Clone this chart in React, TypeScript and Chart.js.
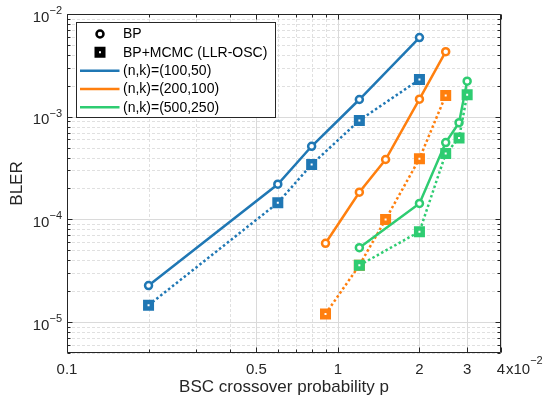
import React, { useEffect, useRef } from 'react';
import { Chart, registerables } from 'chart.js';

Chart.register(...registerables);

// ---- data ----
const xTicks = [0.1, 0.5, 1, 2, 3, 4];
const xTickLabels = ['0.1', '0.5', '1', '2', '3', '4'];
const xMinorTicks = [0.2, 0.3, 0.4, 0.6, 0.7, 0.8, 0.9];
const yDecades = [-5, -4, -3, -2];
const xExponent = '\u22122';
const yMin = 5e-6;
const yMax = 1e-2;
const xMin = 0.1;
const xMax = 4;

const p100 = [0.2, 0.6, 0.8, 1.2, 2];
const bp100 = [2.27e-5, 2.2e-4, 5.15e-4, 1.47e-3, 5.9e-3];
const mc100 = [1.46e-5, 1.45e-4, 3.42e-4, 9.2e-4, 2.3e-3];

const p200 = [0.9, 1.2, 1.5, 2, 2.5];
const bp200 = [5.85e-5, 1.84e-4, 3.83e-4, 1.48e-3, 4.3e-3];
const mc200 = [1.2e-5, 3.57e-5, 1.0e-4, 3.9e-4, 1.61e-3];

const p500 = [1.2, 2, 2.5, 2.8, 3];
const bp500 = [5.3e-5, 1.43e-4, 5.6e-4, 8.75e-4, 2.22e-3];
const mc500 = [3.57e-5, 7.6e-5, 4.37e-4, 6.2e-4, 1.64e-3];

const seriesNames = ['(n,k)=(100,50)', '(n,k)=(200,100)', '(n,k)=(500,250)'];
const markerNames = ['BP', 'BP+MCMC (LLR-OSC)'];
const colors = ['#1F77B4', '#FF7F0E', '#2ECC71'];
const xTitle = 'BSC crossover probability p';
const yTitle = 'BLER';

const FONT = '"Liberation Sans", Arial, Helvetica, sans-serif';
const AXIS = '#262626';

const groups = [
  { p: p100, bp: bp100, mc: mc100 },
  { p: p200, bp: bp200, mc: mc200 },
  { p: p500, bp: bp500, mc: mc500 },
];

function drawSquare(ctx: CanvasRenderingContext2D, x: number, y: number, color: string) {
  ctx.save();
  ctx.fillStyle = '#fff';
  ctx.strokeStyle = color;
  ctx.lineWidth = 4.5;
  ctx.beginPath();
  ctx.rect(x - 3.25, y - 3.25, 6.5, 6.5);
  ctx.fill();
  ctx.stroke();
  ctx.restore();
}

function drawCircle(ctx: CanvasRenderingContext2D, x: number, y: number, color: string) {
  ctx.save();
  ctx.fillStyle = '#fff';
  ctx.strokeStyle = color;
  ctx.lineWidth = 2.5;
  ctx.beginPath();
  ctx.arc(x, y, 3.5, 0, Math.PI * 2);
  ctx.fill();
  ctx.stroke();
  ctx.restore();
}

const decor = {
  id: 'matlabDecor',
  beforeDatasetsDraw(chart: any) {
    const { ctx, chartArea: a, scales } = chart;
    const xs = scales.x;
    const ys = scales.y;
    ctx.save();
    ctx.lineWidth = 1;
    // y grid
    for (let d = -6; d <= -2; d++) {
      for (let m = 1; m <= 9; m++) {
        const v = m * Math.pow(10, d);
        if (v < yMin * 0.999 || v > yMax * 1.001) continue;
        const py = Math.round(ys.getPixelForValue(v)) + 0.5;
        ctx.beginPath();
        if (m === 1) {
          ctx.setLineDash([]);
          ctx.strokeStyle = '#dadada';
        } else {
          ctx.setLineDash([3, 2]);
          ctx.strokeStyle = '#e0e0e0';
        }
        ctx.moveTo(a.left, py);
        ctx.lineTo(a.right, py);
        ctx.stroke();
      }
    }
    // x grid
    const drawV = (v: number, major: boolean) => {
      const px = Math.round(xs.getPixelForValue(v)) + 0.5;
      ctx.beginPath();
      if (major) {
        ctx.setLineDash([]);
        ctx.strokeStyle = '#dadada';
      } else {
        ctx.setLineDash([3, 2]);
        ctx.strokeStyle = '#e0e0e0';
      }
      ctx.moveTo(px, a.top);
      ctx.lineTo(px, a.bottom);
      ctx.stroke();
    };
    xMinorTicks.forEach((v) => drawV(v, false));
    xTicks.forEach((v) => drawV(v, true));
    ctx.restore();
  },
  afterDatasetsDraw(chart: any) {
    const { ctx, chartArea: a, scales } = chart;
    const xs = scales.x;
    const ys = scales.y;
    ctx.save();
    ctx.setLineDash([]);
    ctx.strokeStyle = AXIS;
    ctx.lineWidth = 1;
    const L = a.left + 0.5;
    const R = a.right - 0.5;
    const T = a.top + 0.5;
    const B = a.bottom - 0.5;
    // ticks y
    for (let d = -6; d <= -2; d++) {
      for (let m = 1; m <= 9; m++) {
        const v = m * Math.pow(10, d);
        if (v < yMin * 0.999 || v > yMax * 1.001) continue;
        const py = Math.round(ys.getPixelForValue(v)) + 0.5;
        const len = m === 1 ? 5 : 3;
        ctx.beginPath();
        ctx.moveTo(L, py);
        ctx.lineTo(L + len, py);
        ctx.moveTo(R, py);
        ctx.lineTo(R - len, py);
        ctx.stroke();
      }
    }
    const tickX = (v: number, len: number) => {
      const px = Math.round(xs.getPixelForValue(v)) + 0.5;
      ctx.beginPath();
      ctx.moveTo(px, B);
      ctx.lineTo(px, B - len);
      ctx.moveTo(px, T);
      ctx.lineTo(px, T + len);
      ctx.stroke();
    };
    xTicks.forEach((v) => tickX(v, 5));
    xMinorTicks.forEach((v) => tickX(v, 3));
    // frame
    ctx.beginPath();
    ctx.rect(L, T, R - L, B - T);
    ctx.stroke();

    // tick labels
    ctx.fillStyle = AXIS;
    ctx.textBaseline = 'middle';
    ctx.font = `15px ${FONT}`;
    ctx.textAlign = 'center';
    xTicks.forEach((v, i) => {
      ctx.fillText(xTickLabels[i], xs.getPixelForValue(v), a.bottom + 17);
    });
    // exponent after last x tick
    const lastX = xs.getPixelForValue(xTicks[xTicks.length - 1]);
    ctx.textAlign = 'left';
    ctx.font = `15px ${FONT}`;
    ctx.fillText('x10', lastX + 5, a.bottom + 17);
    const w10 = ctx.measureText('x10').width;
    ctx.font = `11px ${FONT}`;
    ctx.fillText(xExponent, lastX + 5 + w10, a.bottom + 8);

    // y labels
    yDecades.forEach((d) => {
      const py = ys.getPixelForValue(Math.pow(10, d));
      const exp = d < 0 ? '\u2212' + String(-d) : String(d);
      ctx.font = `11px ${FONT}`;
      const ew = ctx.measureText(exp).width;
      const right = a.left - 5;
      ctx.textAlign = 'left';
      ctx.fillText(exp, right - ew, py - 3);
      ctx.font = `15px ${FONT}`;
      ctx.textAlign = 'right';
      ctx.fillText('10', right - ew, py + 3.5);
    });

    // legend
    const bx = 76.5, by = 22.5, bw = 199, bh = 95;
    ctx.fillStyle = '#fff';
    ctx.fillRect(bx, by, bw, bh);
    ctx.strokeStyle = AXIS;
    ctx.lineWidth = 1;
    ctx.strokeRect(bx, by, bw, bh);
    const rowY = [34, 52.3, 70.7, 89, 107.3];
    const textX = 123;
    drawCircle(ctx, 100, rowY[0], '#000');
    drawSquare(ctx, 100, rowY[1], '#000');
    for (let i = 0; i < 3; i++) {
      ctx.save();
      ctx.strokeStyle = colors[i];
      ctx.lineWidth = 2.5;
      ctx.beginPath();
      ctx.moveTo(80, rowY[2 + i]);
      ctx.lineTo(119.5, rowY[2 + i]);
      ctx.stroke();
      ctx.restore();
    }
    ctx.fillStyle = '#000';
    ctx.font = `14px ${FONT}`;
    ctx.textAlign = 'left';
    ctx.textBaseline = 'middle';
    const legendTexts = [...markerNames, ...seriesNames];
    legendTexts.forEach((t, i) => ctx.fillText(t, textX, rowY[i] + 0.5));
    ctx.restore();
  },
};

export default function App() {
  const ref = useRef<HTMLCanvasElement>(null);
  useEffect(() => {
    document.body.style.margin = '0';
    const datasets: any[] = [];
    let k = 0;
    groups.forEach((g, i) => {
      datasets.push({
        label: seriesNames[i] + ' BP',
        data: g.p.map((x, j) => ({ x, y: g.bp[j] })),
        showLine: true,
        borderColor: colors[i],
        borderWidth: 2.5,
        pointStyle: 'circle',
        pointRadius: 3.5,
        pointBorderWidth: 2.5,
        pointBorderColor: colors[i],
        pointBackgroundColor: '#fff',
        order: 20 - k++,
      });
      datasets.push({
        label: seriesNames[i] + ' BP+MCMC',
        data: g.p.map((x, j) => ({ x, y: g.mc[j] })),
        showLine: true,
        borderColor: colors[i],
        borderWidth: 2.5,
        borderDash: [2.5, 2.5],
        pointStyle: 'rect',
        pointRadius: 4.6,
        pointBorderWidth: 4.5,
        pointBorderColor: colors[i],
        pointBackgroundColor: '#fff',
        order: 20 - k++,
      });
    });
    const chart = new Chart(ref.current as HTMLCanvasElement, {
      type: 'scatter',
      data: { datasets },
      plugins: [decor],
      options: {
        animation: false,
        responsive: false,
        devicePixelRatio: 1,
        layout: { padding: { left: 0, right: 44, top: 14, bottom: 0 } },
        plugins: { legend: { display: false }, tooltip: { enabled: false } },
        scales: {
          x: {
            type: 'logarithmic',
            min: xMin,
            max: xMax,
            grid: { display: false, drawTicks: false },
            border: { display: false },
            ticks: { display: false },
            afterFit: (s: any) => { s.height = 47; },
            title: {
              display: true,
              text: xTitle,
              color: AXIS,
              font: { family: FONT, size: 17 },
              padding: { top: 0, bottom: 2 },
            },
          },
          y: {
            type: 'logarithmic',
            min: yMin,
            max: yMax,
            grid: { display: false, drawTicks: false },
            border: { display: false },
            ticks: { display: false },
            afterFit: (s: any) => { s.width = 67; },
            title: {
              display: true,
              text: yTitle,
              color: AXIS,
              font: { family: FONT, size: 17 },
              padding: { top: 7, bottom: 0 },
            },
          },
        },
      } as any,
    });
    return () => chart.destroy();
  }, []);
  return (
    <div style={{ width: 545, height: 400 }}>
      <canvas ref={ref} width={545} height={400} style={{ display: 'block' }} />
    </div>
  );
}
